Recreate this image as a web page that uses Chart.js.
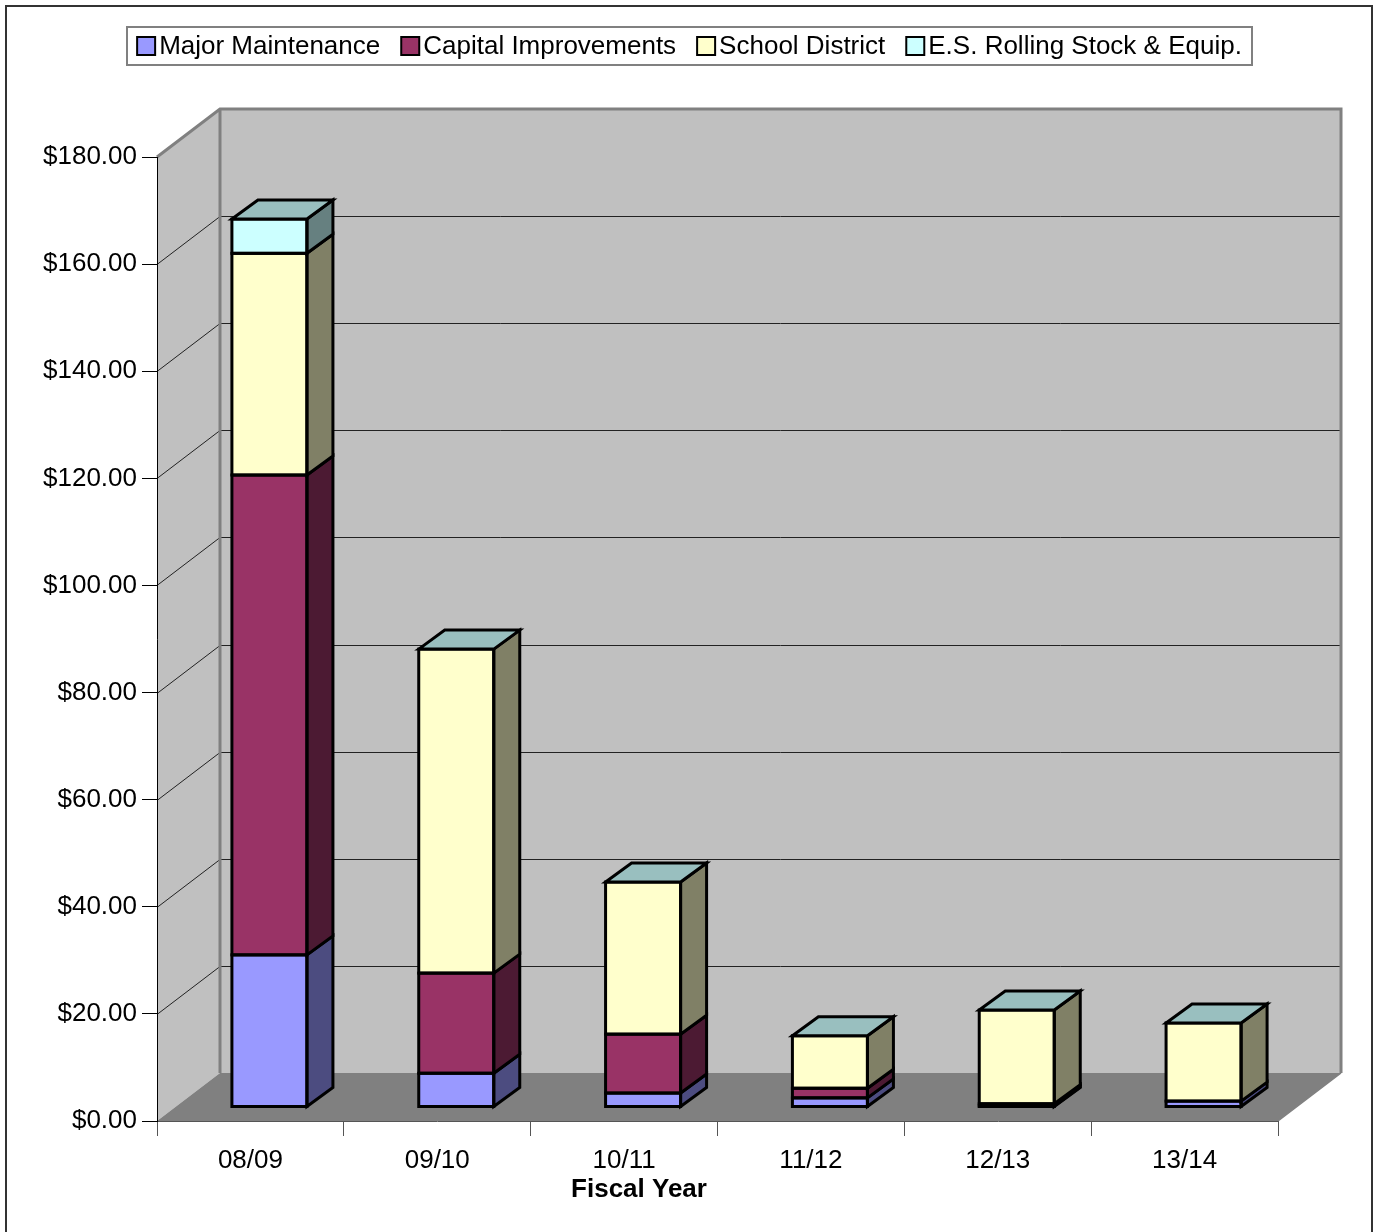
<!DOCTYPE html>
<html><head><meta charset="utf-8">
<script src="https://cdn.jsdelivr.net/npm/chart.js@4.4.1/dist/chart.umd.min.js"></script>
<style>html,body{margin:0;padding:0;background:#fff}canvas{display:block}</style>
</head><body><canvas id="c" width="1375" height="1232"></canvas>
<script>
const categories = ['08/09', '09/10', '10/11', '11/12', '12/13', '13/14'];
const majorMaintenance = [28.4, 6.3, 2.6, 1.7, 0.2, 1.1];
const capitalImprovements = [89.6, 18.7, 11.0, 1.8, 0.4, 0];
const schoolDistrict = [41.4, 60.5, 28.4, 9.8, 17.5, 14.6];
const rollingStock = [6.4, 0, 0, 0, 0, 0];
const seriesNames = ['Major Maintenance', 'Capital Improvements', 'School District', 'E.S. Rolling Stock & Equip.'];
const yTickValues = [0, 20, 40, 60, 80, 100, 120, 140, 160, 180];
const xTitle = 'Fiscal Year';

const frontColors = ['#9999FF', '#993366', '#FFFFCC', '#CCFFFF'];
const sideColors = ['#4C4C80', '#4C1A33', '#808066', '#668080'];
const topColor = '#99BFBF';
const FONT = '"Liberation Sans", Arial, sans-serif';
const WALL = {dx: 63, dy: -48};
const BAR_SHIFT = {dx: 19, dy: -14};
const BAR_DEPTH = {dx: 26, dy: -19};

const seriesData = [majorMaintenance, capitalImprovements, schoolDistrict, rollingStock];

const scene3d = {
  id: 'scene3d',
  beforeDraw(chart) {
    const ctx = chart.ctx, a = chart.chartArea, ys = chart.scales.y;
    ctx.save();
    ctx.fillStyle = '#fff';
    ctx.fillRect(0, 0, chart.width, chart.height);
    const y0 = ys.getPixelForValue(0), yTop = ys.getPixelForValue(180);
    // back wall
    ctx.fillStyle = '#C0C0C0';
    ctx.fillRect(a.left + WALL.dx, yTop + WALL.dy, a.right - a.left, y0 - yTop);
    // left wall
    ctx.beginPath();
    ctx.moveTo(a.left, yTop);
    ctx.lineTo(a.left + WALL.dx, yTop + WALL.dy);
    ctx.lineTo(a.left + WALL.dx, y0 + WALL.dy);
    ctx.lineTo(a.left, y0);
    ctx.closePath();
    ctx.fill();
    // floor
    ctx.fillStyle = '#808080';
    ctx.beginPath();
    ctx.moveTo(a.left, y0);
    ctx.lineTo(a.right, y0);
    ctx.lineTo(a.right + WALL.dx, y0 + WALL.dy);
    ctx.lineTo(a.left + WALL.dx, y0 + WALL.dy);
    ctx.closePath();
    ctx.fill();
    // gridlines
    ctx.strokeStyle = '#222';
    ctx.lineWidth = 1;
    yTickValues.forEach(v => {
      if (v === 0 || v === 180) return;
      const y = Math.round(ys.getPixelForValue(v)) + 0.5;
      ctx.beginPath();
      ctx.moveTo(a.left, y);
      ctx.lineTo(a.left + WALL.dx, y + WALL.dy);
      ctx.lineTo(a.right + WALL.dx, y + WALL.dy);
      ctx.stroke();
    });
    // wall edges
    ctx.strokeStyle = '#808080';
    ctx.lineWidth = 3;
    ctx.beginPath();
    ctx.moveTo(a.left, yTop);
    ctx.lineTo(a.left + WALL.dx, yTop + WALL.dy);
    ctx.lineTo(a.right + WALL.dx, yTop + WALL.dy);
    ctx.lineTo(a.right + WALL.dx, y0 + WALL.dy);
    ctx.moveTo(a.left + WALL.dx, yTop + WALL.dy);
    ctx.lineTo(a.left + WALL.dx, y0 + WALL.dy);
    ctx.stroke();
    ctx.lineWidth = 1.5;
    ctx.beginPath();
    ctx.moveTo(a.right, y0);
    ctx.lineTo(a.right + WALL.dx, y0 + WALL.dy);
    ctx.stroke();
    ctx.restore();
  },
  beforeDatasetsDraw(chart) {
    chart.ctx.save();
    chart.ctx.translate(BAR_SHIFT.dx, BAR_SHIFT.dy);
  },
  afterDatasetsDraw(chart) {
    const ctx = chart.ctx;
    ctx.lineWidth = 3;
    ctx.strokeStyle = '#000';
    ctx.lineJoin = 'miter';
    const n = categories.length;
    for (let i = 0; i < n; i++) {
      let topEl = null;
      chart.data.datasets.forEach((ds, d) => {
        const v = ds.data[i];
        if (!v) return;
        const el = chart.getDatasetMeta(d).data[i];
        const p = el.getProps(['x', 'y', 'base', 'width'], true);
        const l = p.x - p.width / 2, r = p.x + p.width / 2;
        const t = Math.min(p.y, p.base), b = Math.max(p.y, p.base);
        ctx.fillStyle = sideColors[d];
        ctx.beginPath();
        ctx.moveTo(r, t);
        ctx.lineTo(r + BAR_DEPTH.dx, t + BAR_DEPTH.dy);
        ctx.lineTo(r + BAR_DEPTH.dx, b + BAR_DEPTH.dy);
        ctx.lineTo(r, b);
        ctx.closePath();
        ctx.fill();
        ctx.stroke();
        ctx.strokeRect(l, t, r - l, b - t);
        topEl = {l, r, t};
      });
      if (topEl) {
        ctx.fillStyle = topColor;
        ctx.beginPath();
        ctx.moveTo(topEl.l, topEl.t);
        ctx.lineTo(topEl.l + BAR_DEPTH.dx, topEl.t + BAR_DEPTH.dy);
        ctx.lineTo(topEl.r + BAR_DEPTH.dx, topEl.t + BAR_DEPTH.dy);
        ctx.lineTo(topEl.r, topEl.t);
        ctx.closePath();
        ctx.fill();
        ctx.stroke();
      }
    }
    ctx.restore();
  },
  afterDraw(chart) {
    const ctx = chart.ctx;
    ctx.save();
    // x axis title
    ctx.font = 'bold 26px ' + FONT;
    ctx.fillStyle = '#000';
    ctx.textAlign = 'center';
    ctx.textBaseline = 'middle';
    ctx.fillText(xTitle, 639, 1190);
    // legend
    ctx.textAlign = 'left';
    ctx.font = '26px ' + FONT;
    const box = 18, gap = 4, itemGap = 21;
    const items = chart.data.datasets.map((ds, i) => ({label: ds.label, color: frontColors[i], w: ctx.measureText(ds.label).width}));
    const total = items.reduce((s, it) => s + box + gap + it.w, 0) + itemGap * (items.length - 1);
    let x = 689.5 - total / 2;
    ctx.strokeStyle = '#808080';
    ctx.lineWidth = 2;
    ctx.strokeRect(127, 27, 1125, 38);
    items.forEach(it => {
      ctx.fillStyle = it.color;
      ctx.fillRect(x, 37, box, box);
      ctx.strokeStyle = '#000';
      ctx.lineWidth = 2;
      ctx.strokeRect(x, 37, box, box);
      ctx.fillStyle = '#000';
      ctx.fillText(it.label, x + box + gap, 47);
      x += box + gap + it.w + itemGap;
    });
    // outer frame
    ctx.strokeStyle = '#333';
    ctx.lineWidth = 2;
    ctx.strokeRect(6, 6, 1366, 1250);
    ctx.restore();
  }
};

new Chart(document.getElementById('c'), {
  type: 'bar',
  data: {
    labels: categories,
    datasets: seriesData.map((arr, i) => ({
      label: seriesNames[i],
      data: arr,
      backgroundColor: frontColors[i],
      borderWidth: 0,
      barPercentage: 1,
      categoryPercentage: 0.4015,
      clip: false
    }))
  },
  options: {
    responsive: false,
    devicePixelRatio: 1,
    animation: false,
    events: [],
    layout: {padding: {top: 157, right: 97, left: 0, bottom: 0}},
    plugins: {legend: {display: false}, tooltip: {enabled: false}, title: {display: false}},
    scales: {
      x: {
        stacked: true,
        afterFit: s => { s.height = 111; },
        grid: {offset: true, drawOnChartArea: false, tickLength: 15, color: '#555', lineWidth: 1},
        border: {display: true, color: '#555', width: 1},
        ticks: {font: {family: FONT, size: 26}, color: '#000', padding: 9, maxRotation: 0},
        title: {display: false, text: xTitle}
      },
      y: {
        stacked: true,
        min: 0, max: 180,
        afterFit: s => { s.width = 157; },
        afterBuildTicks: s => { s.ticks = yTickValues.map(v => ({value: v})); },
        grid: {drawOnChartArea: false, tickLength: 15, color: '#000', lineWidth: 1},
        border: {display: true, color: '#000', width: 1},
        ticks: {font: {family: FONT, size: 26}, color: '#000', padding: 5, callback: v => '$' + Number(v).toFixed(2)}
      }
    }
  },
  plugins: [scene3d]
});
</script>
</body></html>
